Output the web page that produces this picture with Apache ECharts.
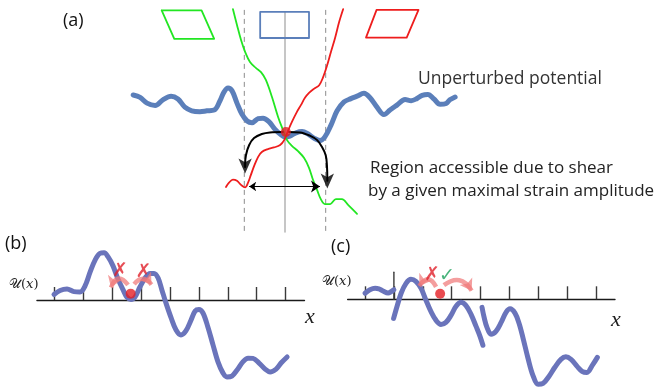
<!DOCTYPE html>
<html>
<head>
<meta charset="utf-8">
<script src="https://cdn.jsdelivr.net/npm/echarts@6/dist/echarts.min.js"></script>
<style>
  html, body { margin: 0; padding: 0; background: #ffffff; }
  #chart { width: 659px; height: 389px; }
</style>
</head>
<body>
<div id="chart"></div>
<script>
// ---------- Panel (a): energy landscape vs. strain (x unit = maximal strain amplitude) ----------
const unperturbed = [
  [-3.73,0.91],[-3.56,0.85],[-3.39,0.71],[-3.19,0.65],[-3.00,0.79],[-2.80,0.88],[-2.63,0.81],
  [-2.46,0.61],[-2.29,0.52],[-2.09,0.50],[-1.92,0.52],[-1.74,0.54],[-1.60,0.76],[-1.50,0.98],
  [-1.40,1.08],[-1.30,1.01],[-1.18,0.71],[-1.06,0.44],[-0.93,0.27],[-0.81,0.23],[-0.66,0.33],
  [-0.54,0.34],[-0.39,0.25],[-0.25,0.07],[-0.12,-0.05],[0.00,-0.12],[0.12,-0.10],[0.27,-0.02],
  [0.42,0.01],[0.57,-0.05],[0.71,-0.15],[0.86,-0.21],[0.98,-0.12],[1.13,0.17],[1.28,0.52],
  [1.45,0.74],[1.62,0.82],[1.77,0.88],[1.94,0.95],[2.09,0.84],[2.26,0.61],[2.43,0.43],
  [2.58,0.54],[2.75,0.66],[2.95,0.80],[3.10,0.77],[3.24,0.82],[3.37,0.90],[3.51,0.92],
  [3.66,0.81],[3.81,0.68],[3.96,0.70],[4.05,0.79],[4.18,0.86]
];
// landscape tilted by shear of negative sign
const shearedNeg = [
  [-1.28,3.02],[-1.18,2.63],[-1.08,2.26],[-0.98,1.97],[-0.86,1.72],[-0.71,1.57],[-0.59,1.47],
  [-0.47,1.28],[-0.32,0.86],[-0.17,0.37],[-0.05,0.05],[0.05,-0.20],[0.17,-0.34],[0.32,-0.47],
  [0.47,-0.64],[0.59,-0.88],[0.69,-1.18],[0.79,-1.43],[0.88,-1.65],[0.98,-1.77],[1.11,-1.77],
  [1.25,-1.65],[1.40,-1.65],[1.55,-1.79],[1.77,-2.01]
];
// landscape tilted by shear of positive sign
const shearedPos = [
  [-1.45,-1.35],[-1.38,-1.25],[-1.28,-1.17],[-1.18,-1.20],[-1.08,-1.30],[-0.98,-1.36],[-0.91,-1.25],
  [-0.84,-1.06],[-0.76,-0.84],[-0.66,-0.61],[-0.57,-0.49],[-0.42,-0.42],[-0.27,-0.38],[-0.12,-0.32],
  [-0.02,-0.20],[0.07,0.02],[0.17,0.25],[0.29,0.49],[0.39,0.66],[0.49,0.84],[0.59,0.96],
  [0.71,1.06],[0.84,1.15],[0.93,1.33],[1.03,1.62],[1.13,1.97],[1.23,2.31],[1.33,2.70],[1.43,3.02]
];
const cellRef = [[-0.61,2.95],[0.59,2.95],[0.59,2.31],[-0.61,2.31],[-0.61,2.95]];
const cellNeg = [[-3.03,2.99],[-2.05,2.99],[-1.74,2.29],[-2.72,2.29],[-3.03,2.99]];
const cellPos = [[2.25,3.00],[3.28,3.00],[2.99,2.32],[1.99,2.32],[2.25,3.00]];
const strainBounds = [-1, 1];
const guideTop = 3.0, guideBottom = -2.46, centreTop = 2.95;
const stateA = [0.02, 0];
const jumpLeft = [[-0.05,0],[-0.37,-0.01],[-0.57,-0.05],[-0.76,-0.15],[-0.88,-0.32],[-0.96,-0.57],[-0.98,-0.81],[-0.98,-0.86]];
const jumpRight = [[0.10,0],[0.37,-0.01],[0.61,-0.09],[0.79,-0.20],[0.91,-0.37],[1.00,-0.57],[1.03,-0.81],[1.04,-1.18],[1.04,-1.20]];
const jumpHeads = [[-0.98,-1.02],[1.04,-1.39]];
const reachSpan = [[-0.88,-1.34],[0.86,-1.34]];

// ---------- Panel (b): tilted potential, particle trapped ----------
const ticks = [0,1,2,3,4,5,6,7,8];
const potentialB = [
  [-0.01,0.19],[0.20,0.33],[0.44,0.38],[0.68,0.29],[0.89,0.28],[1.06,0.48],[1.24,0.97],[1.41,1.38],
  [1.58,1.61],[1.72,1.63],[1.86,1.49],[2.03,1.18],[2.20,0.73],[2.38,0.35],[2.51,0.10],[2.65,0.02],
  [2.79,0.10],[2.96,0.45],[3.14,0.76],[3.31,0.92],[3.45,0.92],[3.59,0.76],[3.72,0.35],[3.86,-0.10],
  [4.04,-0.62],[4.21,-1.04],[4.38,-1.21],[4.55,-1.07],[4.73,-0.69],[4.87,-0.38],[5.00,-0.33],
  [5.14,-0.45],[5.31,-0.93],[5.49,-1.56],[5.66,-2.14],[5.83,-2.52],[5.97,-2.66],[6.14,-2.63],
  [6.32,-2.42],[6.52,-2.14],[6.70,-2.01],[6.87,-2.02],[7.08,-2.18],[7.29,-2.39],[7.46,-2.49],
  [7.67,-2.39],[7.84,-2.18],[8.05,-1.97]
];
const particleB = [2.64, 0.22];
const hopsB = [
  { from: [2.55,0.52], to: [1.96,0.43], bend: -0.9 },
  { from: [2.76,0.55], to: [3.36,0.53], bend: 0.65 }
];
const verdictB = [
  { at: [2.27,0.99], mark: '✗' },
  { at: [3.08,0.97], mark: '✗' }
];

// ---------- Panel (c): potential after a plastic rearrangement ----------
const potentialC1 = [[0.00,0.21],[0.17,0.33],[0.35,0.38],[0.48,0.36],[0.62,0.29],[0.80,0.22],[0.90,0.26],[1.00,0.33]];
const potentialC2 = [
  [0.99,-0.66],[1.11,-0.24],[1.25,0.21],[1.42,0.55],[1.59,0.69],[1.76,0.62],[1.94,0.38],[2.11,-0.03],
  [2.28,-0.42],[2.46,-0.73],[2.63,-0.87],[2.80,-0.80],[2.98,-0.55],[3.15,-0.24],[3.32,-0.10],
  [3.49,-0.21],[3.67,-0.52],[3.84,-0.93],[3.98,-1.28],[4.08,-1.59]
];
const potentialC3 = [
  [4.05,-0.28],[4.12,-0.62],[4.22,-0.97],[4.36,-1.21],[4.53,-1.11],[4.71,-0.80],[4.88,-0.45],
  [5.02,-0.33],[5.19,-0.48],[5.33,-0.83],[5.47,-1.35],[5.64,-2.04],[5.81,-2.63],[5.99,-2.94],
  [6.16,-2.91],[6.37,-2.66],[6.57,-2.35],[6.78,-2.08],[6.95,-1.99],[7.13,-2.08],[7.34,-2.32],
  [7.51,-2.49],[7.68,-2.53],[7.87,-2.28],[8.04,-2.01]
];
const ruptureTick = [[1,0],[1,0.94]];
const particleC = [2.60, 0.19];
const hopsC = [
  { from: [2.46,0.43], to: [1.88,0.46], bend: -0.85 },
  { from: [2.73,0.49], to: [3.69,0.30], bend: 0.55 }
];
const verdictC = [
  { at: [2.32,0.83], mark: '✗' },
  { at: [2.84,0.80], mark: '✓' }
];

// ---------- colours ----------
const BLUE_A = '#5b7fba', BLUE_BC = '#6a74bb', GREEN = '#22e622', RED = '#ee1d1d';
const DOT = '#e31e24', HOP = 'rgba(240,120,120,0.72)', GUIDE = '#8c8c8c';
const CROSS = '#e0202a', CHECK = '#1aa05a';

// ---------- layout: equal aspect in every panel ----------
const uA = 40.7, uB = 28.92, uC = 28.9;
const grids = [
  { left: 285 - 4.6 * uA, top: 132 - 3.2 * uA, width: 9.2 * uA, height: 5.9 * uA },
  { left: 54.3 - 0.6 * uB, top: 300 - 2 * uB, width: 9.25 * uB, height: 5.2 * uB },
  { left: 365 - 0.6 * uC, top: 299.3 - 2 * uC, width: 9.25 * uC, height: 5.2 * uC }
].map(g => Object.assign({ containLabel: false, outerBoundsMode: 'none', show: false }, g));

const hidden = { show: false };
const xAxes = [
  { gridIndex: 0, type: 'value', min: -4.6, max: 4.6, show: false },
  ...[1, 2].map(i => ({
    gridIndex: i, type: 'value', min: -0.6, max: 8.65,
    axisLine: { show: true, onZero: true, lineStyle: { color: '#1a1a1a', width: 1.4 } },
    axisTick: { show: true, inside: true, length: 13, customValues: ticks, lineStyle: { color: '#3a3a3a', width: 1.4 } },
    axisLabel: hidden, splitLine: hidden
  }))
];
const yAxes = [
  { gridIndex: 0, type: 'value', min: -2.7, max: 3.2, show: false },
  { gridIndex: 1, type: 'value', min: -3.2, max: 2, show: false },
  { gridIndex: 2, type: 'value', min: -3.2, max: 2, show: false }
];

function path(data, idx, color, width, opts) {
  return Object.assign({
    type: 'line', xAxisIndex: idx, yAxisIndex: idx, data: data,
    symbol: 'none', smooth: false, clip: false, silent: true,
    lineStyle: { color: color, width: width, cap: 'round', join: 'round' }
  }, opts || {});
}
function curve(data, idx, color, width) {
  return path(data, idx, color, width, { smooth: 0.35 });
}
function dot(pt, idx) {
  return { type: 'scatter', xAxisIndex: idx, yAxisIndex: idx, data: [pt], symbol: 'circle',
           symbolSize: 10, itemStyle: { color: DOT }, silent: true, z: 5 };
}
function hops(list, idx) {
  return { type: 'lines', coordinateSystem: 'cartesian2d', xAxisIndex: idx, yAxisIndex: idx,
           silent: true, z: 4, symbol: ['none', 'arrow'], symbolSize: [12, 11],
           data: list.map(h => ({ coords: [h.from, h.to], lineStyle: { curveness: h.bend } })),
           lineStyle: { color: HOP, width: 4.5, opacity: 1 } };
}
function verdicts(list, idx) {
  return { type: 'scatter', xAxisIndex: idx, yAxisIndex: idx, silent: true, z: 6,
           symbolSize: 0, itemStyle: { color: 'transparent' },
           data: list.map(v => ({
             value: v.at, mark: v.mark,
             label: { color: v.mark === '✓' ? CHECK : CROSS }
           })),
           label: { show: true, position: 'inside', fontFamily: 'DejaVu Sans', fontSize: 19,
                    fontWeight: 'bold', formatter: p => p.data.mark } };
}

const series = [
  // panel (a)
  ...strainBounds.map(s => path([[s, guideTop], [s, guideBottom]], 0, GUIDE, 1, { lineStyle: { color: GUIDE, width: 1, type: [5, 4] } })),
  path([[0, centreTop], [0, guideBottom]], 0, '#a0a0a0', 1.2),
  path(cellNeg, 0, GREEN, 1.8),
  path(cellRef, 0, BLUE_A, 1.8),
  path(cellPos, 0, RED, 1.8),
  curve(unperturbed, 0, BLUE_A, 5),
  curve(shearedNeg, 0, GREEN, 1.8),
  curve(shearedPos, 0, RED, 1.8),
  curve(jumpLeft, 0, '#000', 2),
  curve(jumpRight, 0, '#000', 2),
  { type: 'scatter', xAxisIndex: 0, yAxisIndex: 0, data: jumpHeads, symbol: 'arrow', symbolRotate: 180,
    symbolSize: [10, 15], itemStyle: { color: '#000' }, silent: true, z: 4 },
  { type: 'lines', coordinateSystem: 'cartesian2d', xAxisIndex: 0, yAxisIndex: 0, silent: true, z: 4,
    symbol: ['arrow', 'arrow'], symbolSize: [7, 9], data: [{ coords: reachSpan }],
    lineStyle: { color: '#000', width: 1, opacity: 1 } },
  dot(stateA, 0),
  // panel (b)
  curve(potentialB, 1, BLUE_BC, 5),
  hops(hopsB, 1),
  dot(particleB, 1),
  verdicts(verdictB, 1),
  // panel (c)
  path(ruptureTick, 2, '#3a3a3a', 1.4),
  curve(potentialC1, 2, BLUE_BC, 5),
  curve(potentialC2, 2, BLUE_BC, 5),
  curve(potentialC3, 2, BLUE_BC, 5),
  hops(hopsC, 2),
  dot(particleC, 2),
  verdicts(verdictC, 2)
];

const SANS = '"Open Sans", "DejaVu Sans", sans-serif';
const text = (x, y, t, font, fill) => ({ type: 'text', x: x, y: y, silent: true,
  style: { text: t, font: font, fill: fill || '#222', verticalAlign: 'middle' } });

const option = {
  animation: false,
  backgroundColor: '#ffffff',
  grid: grids,
  xAxis: xAxes,
  yAxis: yAxes,
  series: series,
  graphic: [
    text(63, 21, '(a)', '18px ' + SANS, '#111'),
    text(418, 79, 'Unperturbed potential', '17.5px ' + SANS, '#333'),
    text(370, 168, 'Region accessible due to shear', '17px ' + SANS, '#222'),
    text(368, 191, 'by a given maximal strain amplitude', '17px ' + SANS, '#222'),
    text(5, 244, '(b)', '18px ' + SANS, '#111'),
    text(331, 247, '(c)', '18px ' + SANS, '#111'),
    text(9, 285, '𝒰(𝑥)', '13px "DejaVu Serif", serif', '#222'),
    text(322, 282, '𝒰(𝑥)', '13px "DejaVu Serif", serif', '#222'),
    text(305, 317, 'x', 'italic 22px "Liberation Serif", serif', '#222'),
    text(611, 320, 'x', 'italic 22px "Liberation Serif", serif', '#222')
  ]
};

const chart = echarts.init(document.getElementById('chart'), null, { renderer: 'canvas' });
chart.setOption(option);
</script>
</body>
</html>
